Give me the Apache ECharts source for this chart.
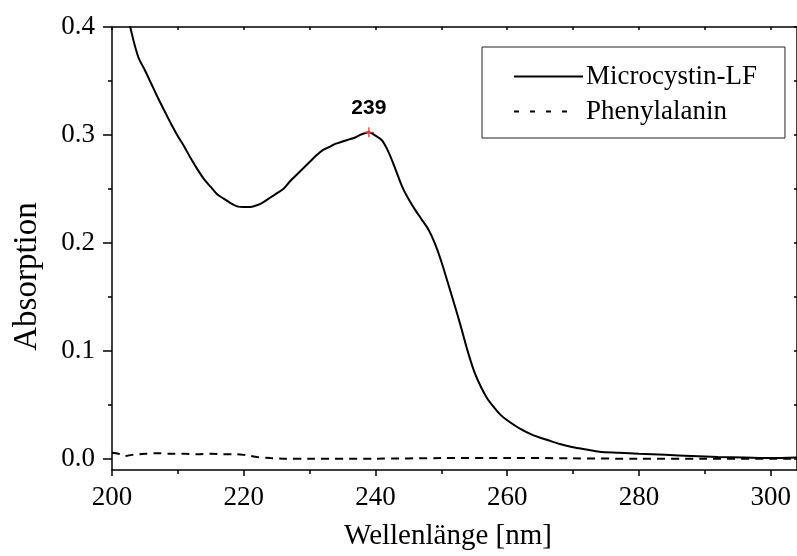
<!DOCTYPE html>
<html><head><meta charset="utf-8">
<script src="https://cdn.jsdelivr.net/npm/echarts@6/dist/echarts.min.js"></script>
<style>html,body{margin:0;padding:0;background:#fff}#c{width:797px;height:556px}</style>
</head><body><div id="c"></div>
<script>
const wavelengthMC = [200,201,202,203,204,205,206,207,208,209,210,211,212,213,214,215,216,217,218,219,220,221,222,223,224,225,226,227,228,229,230,231,232,233,234,235,236,237,238,239,240,241,242,243,244,245,246,247,248,249,250,251,252,253,254,255,256,257,258,259,260,262,264,266,268,270,272,274,277,280,284,288,292,296,300,304];
const absorbMC = [0.470,0.447,0.422,0.394,0.372,0.360,0.347,0.334,0.322,0.310,0.299,0.289,0.278,0.268,0.259,0.252,0.245,0.241,0.237,0.234,0.2335,0.2335,0.235,0.238,0.242,0.246,0.250,0.257,0.263,0.269,0.275,0.281,0.286,0.289,0.292,0.294,0.296,0.298,0.301,0.3025,0.2995,0.295,0.284,0.269,0.253,0.241,0.231,0.222,0.213,0.200,0.183,0.163,0.143,0.122,0.100,0.081,0.067,0.056,0.048,0.041,0.036,0.028,0.022,0.018,0.014,0.011,0.009,0.007,0.006,0.005,0.004,0.003,0.002,0.0015,0.001,0.0015];
const wavelengthPhe = [200,201,202,203,205,207,209,211,213,215,217,219,220,221,222,224,226,230,240,250,260,270,280,290,304];
const absorbPhe = [0.006,0.005,0.003,0.004,0.005,0.0055,0.005,0.005,0.0045,0.005,0.0045,0.0045,0.004,0.003,0.002,0.001,0.0005,0.0003,0.0005,0.001,0.0012,0.0008,0.0004,0.0003,0.0003];
const xMajorTicks = [200,220,240,260,280,300];
const xMinorTicks = [210,230,250,270,290];
const xAllTicks = [200,210,220,230,240,250,260,270,280,290,300];
const yMajorTicks = [0,0.1,0.2,0.3,0.4];
const yMinorTicks = [0.05,0.15,0.25,0.35];
const yAllTicks = [0,0.05,0.1,0.15,0.2,0.25,0.3,0.35,0.4];
const peakWavelength = 239;
const peakAbsorb = 0.3025;
const seriesNames = ['Microcystin-LF','Phenylalanin'];
const xTitle = 'Wellenlänge [nm]';
const yTitle = 'Absorption';

const serif = 'Liberation Serif';
const lineBlack = {color:'#000', width:1.5};
const chart = echarts.init(document.getElementById('c'));
const xr = {min:200, max:304};
const yr = {min:-0.01, max:0.4};
chart.setOption({
  animation:false,
  backgroundColor:'#fff',
  grid:{left:112, right:0, top:27, bottom:80, containLabel:false},
  legend:{
    orient:'vertical', left:482, top:47,
    padding:[16,28,13,31], itemGap:8, itemWidth:69, itemHeight:14,
    borderColor:'#222', borderWidth:1, backgroundColor:'#fff',
    itemStyle:{opacity:0},
    textStyle:{fontFamily:serif, fontSize:27, color:'#000', padding:[0,0,0,-2]},
    data:[{name:seriesNames[0]}, {name:seriesNames[1], lineStyle:{type:[5,11,5,11,5,11,5,30]}}]
  },
  xAxis:[
    {type:'value', position:'bottom', ...xr,
      axisLine:{onZero:false, lineStyle:lineBlack},
      axisTick:{show:true, length:6, lineStyle:lineBlack, customValues:xMajorTicks},
      axisLabel:{customValues:xMajorTicks, fontFamily:serif, fontSize:27, color:'#000', margin:14},
      splitLine:{show:false},
      name:xTitle, nameLocation:'middle', nameGap:52,
      nameTextStyle:{fontFamily:serif, fontSize:29, color:'#000', padding:[0,13,0,0]}
    },
    {type:'value', position:'bottom', ...xr,
      axisLine:{show:false, onZero:false},
      axisTick:{show:true, length:4, lineStyle:lineBlack, customValues:xMinorTicks},
      axisLabel:{show:false}, splitLine:{show:false}
    },
    {type:'value', position:'top', ...xr,
      axisLine:{onZero:false, lineStyle:lineBlack},
      axisTick:{show:true, inside:true, length:3, lineStyle:lineBlack, customValues:xAllTicks},
      axisLabel:{show:false}, splitLine:{show:false}
    }
  ],
  yAxis:[
    {type:'value', position:'left', ...yr,
      axisLine:{onZero:false, lineStyle:lineBlack},
      axisTick:{show:true, length:9, lineStyle:lineBlack, customValues:yMajorTicks},
      axisLabel:{customValues:yMajorTicks, fontFamily:serif, fontSize:27, color:'#000', margin:17,
        formatter:v=>Number(v).toFixed(1)},
      splitLine:{show:false},
      name:yTitle, nameLocation:'middle', nameGap:68,
      nameTextStyle:{fontFamily:serif, fontSize:33, color:'#000', padding:[0,56,0,0]}
    },
    {type:'value', position:'left', ...yr,
      axisLine:{show:false, onZero:false},
      axisTick:{show:true, length:4, lineStyle:lineBlack, customValues:yMinorTicks},
      axisLabel:{show:false}, splitLine:{show:false}
    },
    {type:'value', position:'right', ...yr,
      axisLine:{onZero:false, lineStyle:lineBlack},
      axisTick:{show:true, inside:true, length:3, lineStyle:lineBlack, customValues:yAllTicks},
      axisLabel:{show:false}, splitLine:{show:false}
    }
  ],
  series:[
    {name:seriesNames[0], type:'line', xAxisIndex:0, yAxisIndex:0, symbol:'none', smooth:0.3, clip:true,
      lineStyle:{color:'#000', width:2}, itemStyle:{color:'#000'},
      data:wavelengthMC.map((x,i)=>[x,absorbMC[i]]),
      markPoint:{
        symbol:'path://M0,3.5h8v1h-8zM3.5,0h1v8h-1z', symbolSize:10, symbolKeepAspect:true,
        itemStyle:{color:'#e8322f', opacity:1},
        label:{show:true, position:'top', distance:9, formatter:()=>String(peakWavelength),
          fontFamily:'Liberation Sans', fontWeight:'bold', fontSize:21, color:'#000'},
        data:[{coord:[peakWavelength, peakAbsorb]}]
      }
    },
    {name:seriesNames[1], type:'line', xAxisIndex:0, yAxisIndex:0, symbol:'none', smooth:0.3, clip:true,
      lineStyle:{color:'#000', width:2, type:[8,6]}, itemStyle:{color:'#000'},
      data:wavelengthPhe.map((x,i)=>[x,absorbPhe[i]])
    }
  ]
});
</script></body></html>
